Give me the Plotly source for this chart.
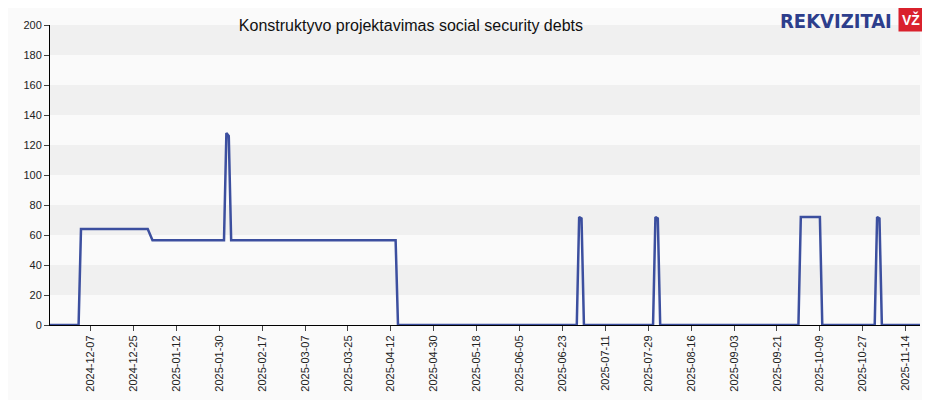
import plotly.graph_objects as go

dates = ["2024-11-20", "2024-12-02", "2024-12-03", "2024-12-31", "2025-01-02",
         "2025-02-01", "2025-02-02", "2025-02-03", "2025-02-04", "2025-04-14",
         "2025-04-15", "2025-06-29", "2025-06-30", "2025-07-01", "2025-07-02",
         "2025-07-31", "2025-08-01", "2025-08-02", "2025-08-03", "2025-09-30",
         "2025-10-01", "2025-10-09", "2025-10-10", "2025-11-01", "2025-11-02",
         "2025-11-03", "2025-11-04", "2025-11-20"]
debts = [0, 0, 64, 64, 56.5,
         56.5, 128, 126, 56.5, 56.5,
         0, 0, 72, 71, 0,
         0, 72, 71, 0, 0,
         72, 72, 0, 0, 72,
         71, 0, 0]
tick_dates = ["2024-12-07", "2024-12-25", "2025-01-12", "2025-01-30", "2025-02-17",
              "2025-03-07", "2025-03-25", "2025-04-12", "2025-04-30", "2025-05-18",
              "2025-06-05", "2025-06-23", "2025-07-11", "2025-07-29", "2025-08-16",
              "2025-09-03", "2025-09-21", "2025-10-09", "2025-10-27", "2025-11-14"]
grey_bands = [(20, 40), (60, 80), (100, 120), (140, 160), (180, 200)]

fig = go.Figure(go.Scatter(x=dates, y=debts, mode="lines",
                           line=dict(color="#3c4f9f", width=2.5)))

shapes = [dict(type="rect", xref="paper", yref="y", x0=0, x1=1, y0=a, y1=b,
               fillcolor="#f0f0f0", line_width=0, layer="below") for a, b in grey_bands]

# page body has an 8px margin, so the figure is sized/offset to land on the reference pixels
fig.update_layout(
    width=922, height=392, margin=dict(l=42, r=10, t=17, b=75),
    paper_bgcolor="#fafafa", plot_bgcolor="#fafafa", showlegend=False,
    font=dict(family="Arial, Liberation Sans", size=11, color="#222"),
    shapes=shapes,
    title=dict(text="Konstruktyvo projektavimas social security debts", x=0.437, y=0.97,
               xanchor="center", font=dict(size=16, color="#111")),
    annotations=[dict(text="<b>REKVIZITAI</b>", xref="paper", yref="paper", x=0.97, y=1.06,
                      xanchor="right", yanchor="top", showarrow=False,
                      font=dict(family="DejaVu Sans Condensed", size=20, color="#2d3e8c")),
                 dict(text="<b>VŽ</b>", xref="paper", yref="paper", x=1.005, y=1.06,
                      xanchor="right", yanchor="top", showarrow=False, bgcolor="#d9212c",
                      borderpad=3, font=dict(size=14, color="white"))],
)
fig.update_xaxes(range=["2024-11-20", "2025-11-20"], tickvals=tick_dates, ticktext=tick_dates,
                 tickangle=-90, ticks="outside", ticklen=5, showgrid=False, automargin=False,
                 showline=True, linecolor="#000", tickfont=dict(size=11))
fig.update_yaxes(range=[0, 200], dtick=20, ticks="outside", ticklen=5, showgrid=False,
                 automargin=False,
                 showline=True, linecolor="#000", zeroline=False, tickfont=dict(size=11))

fig.write_html("out.html")
